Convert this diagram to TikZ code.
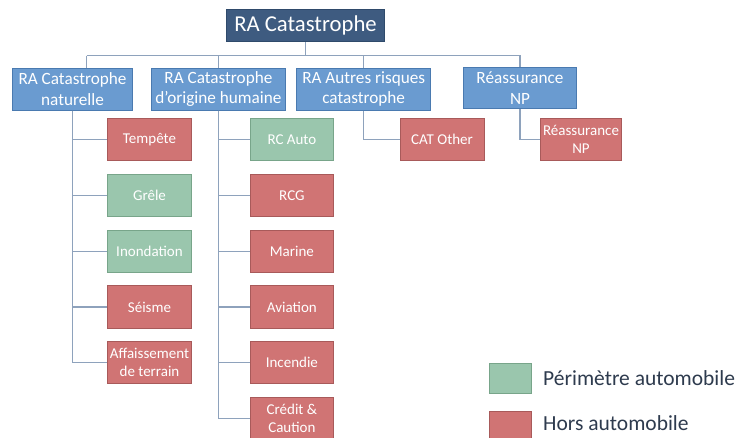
\documentclass[tikz,border=0pt]{standalone}
\usepackage{fontspec}
\setmainfont{Carlito}
\definecolor{topblue}{HTML}{3E5B80}
\definecolor{topborder}{HTML}{2F4A6B}
\definecolor{lblue}{HTML}{6A9BD0}
\definecolor{lblueborder}{HTML}{4A7AB0}
\definecolor{redfill}{HTML}{D07474}
\definecolor{redborder}{HTML}{A85A5A}
\definecolor{greenfill}{HTML}{9AC6AD}
\definecolor{greenborder}{HTML}{78A58A}
\definecolor{connc}{HTML}{8EA2BC}
\definecolor{legtext}{HTML}{2E3B4E}
\begin{document}
\begin{tikzpicture}[x=1pt,y=-1pt,
  box/.style={rectangle, inner sep=0pt, align=center, text=white, line width=1pt},
  topbox/.style={box, fill=topblue, draw=topborder, minimum width=158pt, minimum height=32.5pt, font=\fontsize{22.7}{27}\selectfont},
  lvlbox/.style={box, fill=lblue, draw=lblueborder, minimum height=41.7pt, font=\fontsize{17.2}{20.5}\selectfont},
  redbox/.style={box, fill=redfill, draw=redborder, minimum height=42pt, font=\fontsize{15}{18}\selectfont},
  greenbox/.style={box, fill=greenfill, draw=greenborder, minimum height=42pt, font=\fontsize{15}{18}\selectfont},
  conn/.style={draw=connc, line width=1.2pt},
  legtxt/.style={anchor=base west, inner sep=0pt, text=legtext, font=\fontsize{21.5}{25}\selectfont}
]
\clip (0,0) rectangle (736,438);
\fill[white] (0,0) rectangle (736,438);

% top
\node[topbox] (top) at (305.5,25.5) {RA Catastrophe};

% level 1
\node[lvlbox, minimum width=120.4pt] (b1) at (72.5,89.2) {RA Catastrophe\\naturelle};
\node[lvlbox, minimum width=133.3pt] (b2) at (218.4,89.2) {RA Catastrophe\\d’origine humaine};
\node[lvlbox, minimum width=134pt] (b3) at (363.7,89.2) {RA Autres risques\\catastrophe};
\node[lvlbox, minimum width=113.4pt] (b4) at (520,88) {Réassurance\\NP};

% column 1 children
\node[redbox, minimum width=84.4pt] (c11) at (149.5,139.3) {Tempête};
\node[greenbox, minimum width=84.4pt] (c12) at (149.5,195.3) {Grêle};
\node[greenbox, minimum width=84.4pt] (c13) at (149.5,251.2) {Inondation};
\node[redbox, minimum width=84.4pt] (c14) at (149.5,307) {Séisme};
\node[redbox, minimum width=84.4pt] (c15) at (149.5,362.8) {Affaissement\\de terrain};

% column 2 children
\node[greenbox, minimum width=83.7pt] (c21) at (291.9,139.3) {RC Auto};
\node[redbox, minimum width=83.7pt] (c22) at (291.9,195.3) {RCG};
\node[redbox, minimum width=83.7pt] (c23) at (291.9,251.2) {Marine};
\node[redbox, minimum width=83.7pt] (c24) at (291.9,307) {Aviation};
\node[redbox, minimum width=83.7pt] (c25) at (291.9,362.8) {Incendie};
\node[redbox, minimum width=83.7pt] (c26) at (291.9,418.7) {Crédit \&\\Caution};

% column 3 and 4 children
\node[redbox, minimum width=84pt, minimum height=41.5pt] (c31) at (442,139.7) {CAT Other};
\node[redbox, minimum width=81.3pt, minimum height=41.7pt] (c41) at (581,139.2) {Réassurance\\NP};

% connectors top -> level 1
\coordinate (bus) at (86.7,55.7);
\draw[conn] (top.south) -- (top.south |- bus);
\draw[conn] (bus) -| (b4.north);
\draw[conn] (bus) -- (bus |- b1.north);
\draw[conn] (b2.north |- bus) -- (b2.north);
\draw[conn] (b3.north |- bus) -- (b3.north);

% connectors level 1 -> children
\foreach \c in {c11,c12,c13,c14,c15} \draw[conn] (b1.south) |- (\c.west);
\foreach \c in {c21,c22,c23,c24,c25,c26} \draw[conn] (b2.south) |- (\c.west);
\draw[conn] (b3.south) |- (c31.west);
\draw[conn] (b4.south) |- (c41.west);

% legend
\node[box, fill=greenfill, draw=greenborder, minimum width=42pt, minimum height=30pt] (lg) at (510,378.3) {};
\node[box, fill=redfill, draw=redborder, minimum width=42pt, minimum height=30pt] (lr) at (510,426) {};
\node[legtxt] (lgt) at (543,385.7) {Périmètre automobile};
\node[legtxt] (lrt) at (543,430) {Hors automobile};
\end{tikzpicture}
\end{document}
